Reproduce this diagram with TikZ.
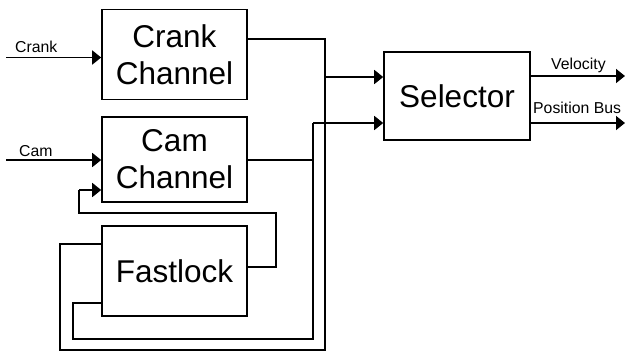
\documentclass[tikz,border=0pt]{standalone}
\usepackage{fontspec}
\setmainfont{Liberation Sans}
\usetikzlibrary{arrows.meta}
\begin{document}
\begin{tikzpicture}[x=1pt, y=-1pt,
	block/.style = {draw, line width=1.6pt, minimum width=145pt, align=center,
		font=\fontsize{31.5}{37}\selectfont},
	wire/.style = {line width=1.6pt},
	arrow/.style = {wire, -{Triangle[length=9pt, width=14pt]}},
	sig/.style = {anchor=base west, inner sep=0pt, font=\fontsize{15.8}{19}\selectfont}]
\useasboundingbox (0,0) rectangle (626,351);
% blocks
\node[block, minimum height=90pt] (crank) at (174.5,54.3) {Crank\\Channel};
\node[block, minimum height=85pt] (cam) at (174.5,159.3) {Cam\\Channel};
\node[block, minimum height=90pt] (fastlock) at (174.5,271) {Fastlock};
\node[block, minimum width=146pt, minimum height=88pt] (selector) at (457,96) {Selector};
% inputs
\coordinate (crankin) at (6,57.5);
\coordinate (camin) at (6,160);
\draw[arrow] (crankin) -- (crankin -| crank.west);
\draw[arrow] (camin) -- (camin -| cam.west);
\node[sig] (crankl) at (15,52.7) {Crank};
\node[sig] (caml) at (19,156) {Cam};
% buses into the selector
\coordinate (crankbus) at (325,77);
\coordinate (cambus) at (313,123);
\draw[wire] (crank.east |- 0,39) -| (crankbus);
\draw[arrow] (crankbus) -- (crankbus -| selector.west);
\draw[wire] (cam.east |- camin) -| (cambus);
\draw[arrow] (cambus) -- (cambus -| selector.west);
% fastlock loops
\coordinate (outerloop) at (60,350);
\coordinate (innerloop) at (73,339);
\draw[wire] (fastlock.west |- 0,244) -| (outerloop) -| (crankbus);
\draw[wire] (fastlock.west |- 0,303) -| (innerloop) -| (cambus);
\coordinate (fbright) at (276,213);
\coordinate (fbleft) at (79,190);
\draw[wire] (fastlock.east |- 0,267) -| (fbright) -| (fbleft);
\draw[arrow] (fbleft) -- (fbleft -| cam.west);
% outputs
\coordinate (velout) at (625,76);
\coordinate (posout) at (625,123);
\draw[arrow] (velout -| selector.east) -- (velout);
\draw[arrow] (posout -| selector.east) -- (posout);
\node[sig] (vell) at (551,69) {Velocity};
\node[sig] (posl) at (533,113) {Position Bus};
\end{tikzpicture}
\end{document}
